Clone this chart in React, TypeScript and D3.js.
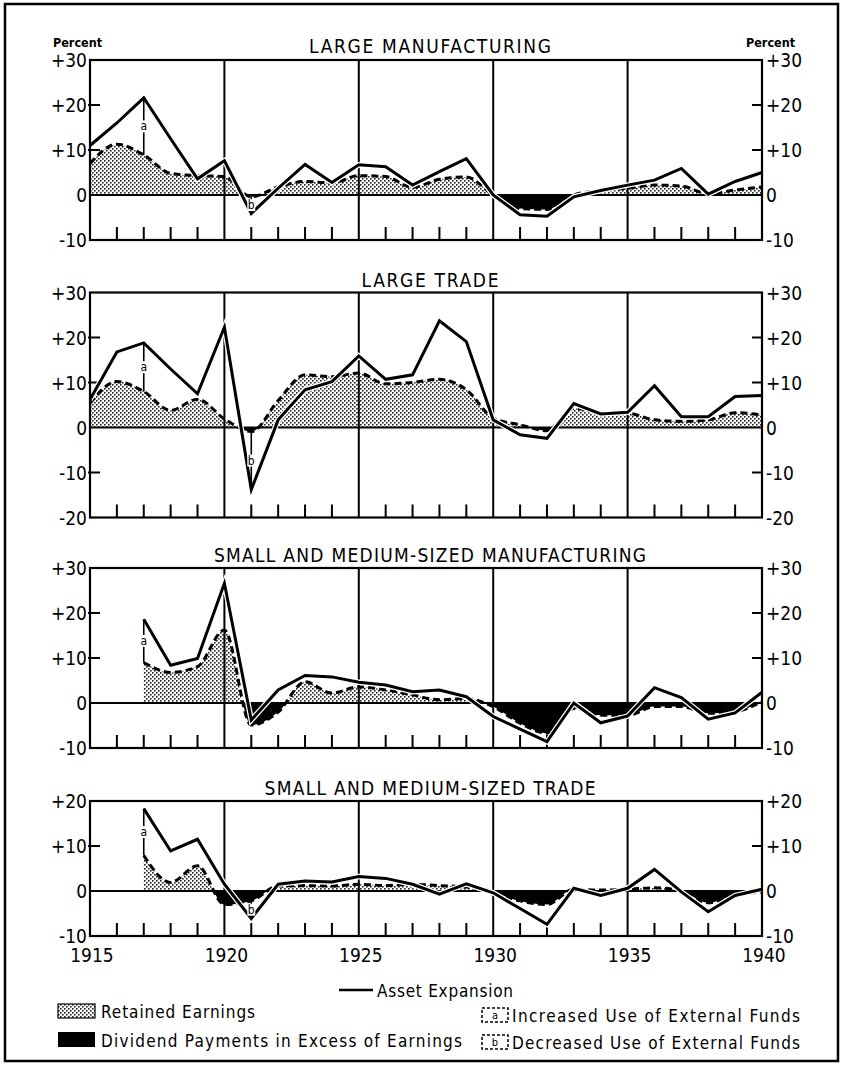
import React from 'react';
import * as d3 from 'd3';

const YEARS = [1915, 1916, 1917, 1918, 1919, 1920, 1921, 1922, 1923, 1924, 1925, 1926, 1927,
  1928, 1929, 1930, 1931, 1932, 1933, 1934, 1935, 1936, 1937, 1938, 1939, 1940];
const DECADE_LABELS = [1915, 1920, 1925, 1930, 1935, 1940];

// Large manufacturing
const lmAsset = [11, 16, 21.6, 12.5, 3.6, 7.6, -4.1, 1.5, 6.8, 2.8, 6.7, 6.3, 2.2, 5.2, 8.1, 0, -4.4, -4.7, -0.4, 1.0, 2.2, 3.3, 5.9, 0.2, 3.0, 5.0];
const lmRetained = [7.0, 11.3, 8.9, 4.8, 4.3, 4.1, -0.4, 1.8, 3.0, 2.7, 4.3, 4.1, 1.7, 3.5, 4.0, 0, -3.0, -3.2, 0, 1.0, 1.5, 2.2, 2.0, 0.3, 1.1, 1.8];
// Large trade
const ltAsset = [6.2, 16.8, 18.8, 13, 7.5, 22.3, -13.8, 1.7, 8.4, 10.2, 15.9, 10.7, 11.7, 23.7, 19.1, 1.7, -1.6, -2.4, 5.3, 3.0, 3.4, 9.3, 2.4, 2.4, 6.9, 7.1];
const ltRetained = [5.4, 10.2, 8.0, 3.8, 6.3, 1.9, -0.9, 6.0, 11.7, 11.3, 12.1, 9.7, 10.0, 10.7, 8.4, 2.1, 0.6, -0.7, 4.3, 3.3, 3.2, 1.7, 1.4, 1.7, 3.3, 2.8];
// Small and medium-sized manufacturing
const smAsset = [null, null, 18.6, 8.4, 9.9, 26.6, -3.8, 2.9, 6.1, 5.8, 4.6, 4.0, 2.5, 2.9, 1.4, -3.0, -5.8, -8.6, 0, -4.4, -2.9, 3.4, 1.2, -3.6, -2.2, 2.4];
const smRetained = [null, null, 9.0, 6.8, 8.1, 16.2, -4.9, -2.0, 4.7, 2.2, 3.6, 2.9, 1.8, 0.7, 1.0, -0.8, -4.5, -6.7, -1.2, -2.7, -2.7, -0.8, -0.8, -2.3, -1.9, 0.3];
// Small and medium-sized trade
const stAsset = [null, null, 18.3, 8.9, 11.5, 1.5, -6.1, 1.5, 2.2, 2.0, 3.2, 2.8, 1.5, -0.7, 1.6, -0.4, -3.9, -7.4, 0.6, -1.0, 0.6, 4.8, -0.2, -4.6, -1.0, 0.4];
const stRetained = [null, null, 7.9, 1.9, 5.6, -3.0, -2.2, 1.1, 1.2, 1.1, 1.5, 1.2, 1.5, 1.2, 0.9, -0.4, -2.2, -3.0, 0.4, 0.2, 0.4, 0.7, 0, -2.6, -0.9, -0.2];

const TITLES = ['LARGE MANUFACTURING', 'LARGE TRADE', 'SMALL AND MEDIUM-SIZED MANUFACTURING', 'SMALL AND MEDIUM-SIZED TRADE'];
const TICKS_P1 = [30, 20, 10, 0, -10];
const TICKS_P2 = [30, 20, 10, 0, -10, -20];
const TICKS_P3 = [30, 20, 10, 0, -10];
const TICKS_P4 = [20, 10, 0, -10];
const NOTES_P1 = [{ year: 1917, label: 'a' }, { year: 1921, label: 'b' }];
const NOTES_P2 = [{ year: 1917, label: 'a' }, { year: 1921, label: 'b' }];
const NOTES_P3 = [{ year: 1917, label: 'a' }];
const NOTES_P4 = [{ year: 1917, label: 'a' }, { year: 1921, label: 'b' }];

const LEGEND_ASSET = 'Asset Expansion';
const LEGEND_RETAINED = 'Retained Earnings';
const LEGEND_DIVIDEND = 'Dividend Payments in Excess of Earnings';
const LEGEND_INCREASED = 'Increased Use of External Funds';
const LEGEND_DECREASED = 'Decreased Use of External Funds';

const FONT = '"DejaVu Sans Condensed", "DejaVu Sans", sans-serif';
const X0 = 90;
const X1 = 762;

const panels = [
  { title: TITLES[0], asset: lmAsset, retained: lmRetained, domain: [-10, 30], range: [240, 60], ticks: TICKS_P1, notes: NOTES_P1, titleY: 53, titleLen: 242 },
  { title: TITLES[1], asset: ltAsset, retained: ltRetained, domain: [-20, 30], range: [517.5, 292.5], ticks: TICKS_P2, notes: NOTES_P2, titleY: 286.5, titleLen: 137 },
  { title: TITLES[2], asset: smAsset, retained: smRetained, domain: [-10, 30], range: [748, 568], ticks: TICKS_P3, notes: NOTES_P3, titleY: 561.5, titleLen: 432 },
  { title: TITLES[3], asset: stAsset, retained: stRetained, domain: [-10, 20], range: [936, 801], ticks: TICKS_P4, notes: NOTES_P4, titleY: 795, titleLen: 331 },
];

const x = d3.scaleLinear().domain([1915, 1940]).range([X0, X1]);

function fmt(v: number) {
  if (v > 0) return '+' + v;
  if (v < 0) return '-' + Math.abs(v);
  return '0';
}

function Panel({ p, idx }: { p: any; idx: number }) {
  const y = d3.scaleLinear().domain(p.domain).range(p.range);
  const y0 = y(0);
  const top = p.range[1];
  const bottom = p.range[0];
  const assetData = YEARS.map((yr, i) => ({ yr, v: p.asset[i] }));
  const retData = YEARS.map((yr, i) => ({ yr, v: p.retained[i] }));

  const lineAsset = d3.line<any>().defined((d) => d.v != null).x((d) => x(d.yr)).y((d) => y(d.v));
  const lineRet = d3.line<any>().defined((d) => d.v != null).x((d) => x(d.yr)).y((d) => y(d.v)).curve(d3.curveMonotoneX);
  const areaRet = d3.area<any>().defined((d) => d.v != null).x((d) => x(d.yr)).y0(y0).y1((d) => y(d.v)).curve(d3.curveMonotoneX);

  const majors = [1920, 1925, 1930, 1935];
  const minors = YEARS.filter((yr) => yr % 5 !== 0);
  const sideTicks = p.ticks.filter((t: number) => t !== 0 && t !== p.domain[0] && t !== p.domain[1]);

  return (
    <g>
      <defs>
        <clipPath id={`above${idx}`}>
          <rect x={X0} y={top} width={X1 - X0} height={y0 - top} />
        </clipPath>
        <clipPath id={`below${idx}`}>
          <rect x={X0} y={y0} width={X1 - X0} height={bottom - y0} />
        </clipPath>
      </defs>
      <text x={430} y={p.titleY} textAnchor="middle" fontFamily={FONT} fontSize={19} textLength={p.titleLen} lengthAdjust="spacing">{p.title}</text>
      {idx === 0 && (
        <g fontFamily={FONT} fontWeight="bold" fontSize={12.5}>
          <text x={53} y={47}>Percent</text>
          <text x={746} y={47}>Percent</text>
        </g>
      )}
      {/* fills */}
      <path d={areaRet(retData) || ''} fill="url(#stipple)" clipPath={`url(#above${idx})`} />
      <path d={areaRet(retData) || ''} fill="#000" clipPath={`url(#below${idx})`} />
      {/* grid */}
      {majors.map((yr) => (
        <line key={yr} x1={x(yr)} x2={x(yr)} y1={top} y2={bottom} stroke="#000" strokeWidth={2} />
      ))}
      {minors.map((yr) => (
        <line key={yr} x1={x(yr)} x2={x(yr)} y1={bottom} y2={bottom - 13} stroke="#000" strokeWidth={2} />
      ))}
      {sideTicks.map((t: number) => (
        <g key={t}>
          <line x1={X0 - 2} x2={X0 + 10} y1={y(t)} y2={y(t)} stroke="#000" strokeWidth={2} />
          <line x1={X1 - 10} x2={X1} y1={y(t)} y2={y(t)} stroke="#000" strokeWidth={2} />
        </g>
      ))}
      <line x1={X0} x2={X1} y1={y0} y2={y0} stroke="#000" strokeWidth={2.2} />
      {/* lines */}
      <path d={lineRet(retData) || ''} fill="none" stroke="#000" strokeWidth={3} strokeDasharray="7,4" />
      <path d={lineAsset(assetData) || ''} fill="none" stroke="#fff" strokeWidth={5.5} strokeLinejoin="miter" />
      <path d={lineAsset(assetData) || ''} fill="none" stroke="#000" strokeWidth={3} strokeLinejoin="miter" />
      {/* annotations */}
      {p.notes.map((n: any) => {
        const i = YEARS.indexOf(n.year);
        const ya = y(p.asset[i]);
        const yr = y(p.retained[i]);
        const mid = (ya + yr) / 2;
        return (
          <g key={n.label}>
            <line x1={x(n.year)} x2={x(n.year)} y1={ya} y2={yr} stroke="#000" strokeWidth={1.6} />
            <rect x={x(n.year) - 4} y={mid - 6} width={8} height={12} fill="#fff" />
            <text x={x(n.year)} y={mid + 4} textAnchor="middle" fontFamily={FONT} fontSize={12}>{n.label}</text>
          </g>
        );
      })}
      {/* border */}
      <rect x={X0} y={top} width={X1 - X0} height={bottom - top} fill="none" stroke="#000" strokeWidth={2.2} />
      {/* tick labels */}
      <g fontFamily={FONT} fontSize={19}>
        {p.ticks.map((t: number) => (
          <g key={t}>
            <text x={87} y={y(t) + 7} textAnchor="end">{fmt(t)}</text>
            <text x={766} y={y(t) + 7} textAnchor="start">{fmt(t)}</text>
          </g>
        ))}
      </g>
    </g>
  );
}

export default function App() {
  return (
    <svg width={841} height={1068} viewBox="0 0 841 1068" style={{ position: 'absolute', left: 0, top: 0, background: '#fff' }}>
      <defs>
        <pattern id="stipple" width={4} height={4} patternUnits="userSpaceOnUse">
          <rect width={4} height={4} fill="#fff" />
          <rect x={0} y={0} width={1.6} height={1.6} fill="#222" />
          <rect x={2} y={2} width={1.6} height={1.6} fill="#222" />
        </pattern>
      </defs>
      <rect x={0} y={0} width={841} height={1068} fill="#fff" />
      <rect x={5} y={4} width={833} height={1057} fill="none" stroke="#000" strokeWidth={2.5} />
      {panels.map((p, i) => (
        <Panel key={i} p={p} idx={i} />
      ))}
      {/* year labels */}
      <g fontFamily={FONT} fontSize={19}>
        {DECADE_LABELS.map((yr) => (
          <text key={yr} x={x(yr) + 2} y={962} textAnchor="middle">{yr}</text>
        ))}
      </g>
      {/* legend */}
      <g fontFamily={FONT} fontSize={17}>
        <line x1={339} x2={373} y1={990} y2={990} stroke="#000" strokeWidth={2.5} />
        <text x={377} y={997} textLength={136} lengthAdjust="spacing">{LEGEND_ASSET}</text>
        <rect x={58} y={1004} width={37} height={14} fill="url(#stipple)" stroke="#000" strokeWidth={1.2} />
        <text x={101} y={1018} textLength={154} lengthAdjust="spacing">{LEGEND_RETAINED}</text>
        <rect x={58} y={1032} width={37} height={15} fill="#000" />
        <text x={101} y={1047} textLength={361} lengthAdjust="spacing">{LEGEND_DIVIDEND}</text>
        <rect x={482} y={1008} width={26} height={14} fill="none" stroke="#000" strokeWidth={1.5} strokeDasharray="3,2" />
        <text x={495} y={1019} textAnchor="middle" fontSize={11}>a</text>
        <text x={512} y={1022} textLength={288} lengthAdjust="spacing">{LEGEND_INCREASED}</text>
        <rect x={482} y={1035} width={26} height={14} fill="none" stroke="#000" strokeWidth={1.5} strokeDasharray="3,2" />
        <text x={495} y={1046} textAnchor="middle" fontSize={11}>b</text>
        <text x={512} y={1049} textLength={288} lengthAdjust="spacing">{LEGEND_DECREASED}</text>
      </g>
    </svg>
  );
}
